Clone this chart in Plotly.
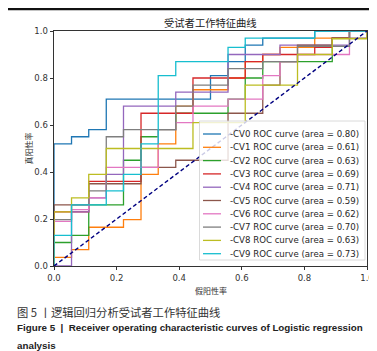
import plotly.graph_objects as go

# false positive rate grid (18 negatives) and step levels of each fold's ROC curve
fpr_steps = [0.0, 0.056, 0.111, 0.167, 0.222, 0.278, 0.333, 0.389, 0.444, 0.5,
             0.556, 0.611, 0.667, 0.722, 0.778, 0.833, 0.889, 0.944, 1.0]

tpr_cv0 = [0.52, 0.55, 0.58, 0.71, 0.71, 0.71, 0.71, 0.71, 0.71, 0.81,
           0.87, 0.94, 0.97, 0.97, 0.97, 1.0, 1.0, 1.0, 1.0]
tpr_cv1 = [0.037, 0.07, 0.165, 0.165, 0.197, 0.39, 0.52, 0.68, 0.75, 0.75,
           0.80, 0.87, 0.90, 0.93, 0.93, 0.97, 0.97, 1.0, 1.0]
tpr_cv2 = [0.10, 0.13, 0.26, 0.26, 0.45, 0.55, 0.58, 0.65, 0.65, 0.65,
           0.71, 0.80, 0.87, 0.87, 0.87, 0.87, 0.97, 1.0, 1.0]
tpr_cv3 = [0.23, 0.23, 0.36, 0.36, 0.36, 0.65, 0.65, 0.65, 0.80, 0.80,
           0.80, 0.87, 0.90, 0.90, 0.90, 0.93, 0.97, 1.0, 1.0]
tpr_cv4 = [0.0, 0.23, 0.29, 0.39, 0.68, 0.68, 0.68, 0.74, 0.74, 0.74,
           0.90, 0.90, 0.90, 0.94, 0.94, 0.94, 0.94, 1.0, 1.0]
tpr_cv5 = [0.26, 0.26, 0.35, 0.35, 0.35, 0.42, 0.42, 0.45, 0.45, 0.45,
           0.65, 0.65, 0.77, 0.87, 0.94, 0.94, 0.97, 0.97, 1.0]
tpr_cv6 = [0.19, 0.24, 0.29, 0.42, 0.42, 0.42, 0.58, 0.61, 0.68, 0.68,
           0.71, 0.71, 0.81, 0.87, 0.90, 0.90, 0.90, 1.0, 1.0]
tpr_cv7 = [0.197, 0.26, 0.32, 0.55, 0.58, 0.58, 0.58, 0.68, 0.77, 0.77,
           0.84, 0.84, 0.87, 0.87, 0.935, 0.935, 0.935, 1.0, 1.0]
tpr_cv8 = [0.23, 0.29, 0.39, 0.50, 0.50, 0.50, 0.50, 0.50, 0.61, 0.61,
           0.61, 0.77, 0.77, 0.77, 0.90, 0.90, 0.967, 0.967, 1.0]
tpr_cv9 = [0.13, 0.26, 0.26, 0.32, 0.39, 0.52, 0.81, 0.87, 0.87, 0.87,
           0.93, 0.97, 0.97, 0.97, 0.97, 1.0, 1.0, 1.0, 1.0]

auc_values = [0.80, 0.61, 0.63, 0.69, 0.71, 0.59, 0.62, 0.70, 0.63, 0.73]
fold_names = ["CV0", "CV1", "CV2", "CV3", "CV4", "CV5", "CV6", "CV7", "CV8", "CV9"]
chance_x = [0, 1]
chance_y = [0, 1]
tick_vals = [0.0, 0.2, 0.4, 0.6, 0.8, 1.0]

colors = ["#1f77b4", "#ff7f0e", "#2ca02c", "#d62728", "#9467bd",
          "#8c564b", "#e377c2", "#7f7f7f", "#bcbd22", "#17becf"]
curves = [tpr_cv0, tpr_cv1, tpr_cv2, tpr_cv3, tpr_cv4,
          tpr_cv5, tpr_cv6, tpr_cv7, tpr_cv8, tpr_cv9]

W, H = 377, 351
L, R, T, B = 46, 18, 23, 93
PW, PH = W - L - R, H - T - B


def px(x):
    return (x - L) / PW


def py(y):
    return (H - B - y) / PH


fig = go.Figure()
for name, tpr, col in zip(fold_names, curves, colors):
    fig.add_trace(go.Scatter(x=[0.0] + fpr_steps, y=[0.0] + tpr, mode="lines",
                             line=dict(color=col, width=1.3, shape="hv"),
                             name=name, showlegend=False))
fig.add_trace(go.Scatter(x=chance_x, y=chance_y, mode="lines",
                         line=dict(color="navy", width=1.4, dash="4px,2.6px"),
                         showlegend=False))

shapes = []
annotations = []

# black rule at the very top of the page
shapes.append(dict(type="rect", xref="paper", yref="paper",
                   x0=px(0), x1=px(W), y0=py(2.2), y1=py(0),
                   fillcolor="#111", line=dict(width=0)))

# legend box drawn by hand (matplotlib style)
lx0, lx1, ly0, ly1 = 191.5, 357, 113, 252
shapes.append(dict(type="rect", xref="paper", yref="paper",
                   x0=px(lx0), x1=px(lx1), y0=py(ly1), y1=py(ly0),
                   fillcolor="rgba(255,255,255,0.8)",
                   line=dict(color="#d0d0d0", width=0.8)))
for i, (name, auc, col) in enumerate(zip(fold_names, auc_values, colors)):
    yy = 126 + i * 13.3
    shapes.append(dict(type="line", xref="paper", yref="paper",
                       x0=px(195), x1=px(213), y0=py(yy), y1=py(yy),
                       line=dict(color=col, width=1.3)))
    annotations.append(dict(x=px(220), y=py(yy), xref="paper", yref="paper",
                            text=f"-{name} ROC curve (area = {auc:.2f})",
                            showarrow=False, xanchor="left", yanchor="middle",
                            font=dict(family="DejaVu Sans", size=8.6, color="#262626")))

# titles
annotations.append(dict(x=0.5, y=py(14), xref="paper", yref="paper",
                        text="受试者工作特征曲线", showarrow=False,
                        xanchor="center", yanchor="middle",
                        font=dict(family="Noto Sans CJK SC", size=10.3, color="#222")))
annotations.append(dict(x=0.5, y=py(282), xref="paper", yref="paper",
                        text="假阳性率", showarrow=False,
                        xanchor="center", yanchor="middle",
                        font=dict(family="Noto Sans CJK SC", size=8, color="#333")))
annotations.append(dict(x=px(20), y=0.5, xref="paper", yref="paper",
                        text="真阳性率", showarrow=False, textangle=-90,
                        xanchor="center", yanchor="middle",
                        font=dict(family="Noto Sans CJK SC", size=8, color="#333")))

# figure caption
annotations.append(dict(x=px(7), y=py(304), xref="paper", yref="paper",
                        text="图 5 丨逻辑回归分析受试者工作特征曲线", showarrow=False,
                        xanchor="left", yanchor="middle",
                        font=dict(family="Noto Sans CJK SC", size=11.3, color="#333")))
annotations.append(dict(x=px(7), y=py(319.5), xref="paper", yref="paper",
                        text="<b>Figure 5  |  Receiver operating characteristic curves of Logistic regression</b>",
                        showarrow=False, xanchor="left", yanchor="middle",
                        font=dict(family="Liberation Sans", size=9.8, color="#222")))
annotations.append(dict(x=px(7), y=py(337), xref="paper", yref="paper",
                        text="<b>analysis</b>", showarrow=False,
                        xanchor="left", yanchor="middle",
                        font=dict(family="Liberation Sans", size=9.8, color="#222")))

axis_style = dict(range=[0, 1], showgrid=False, zeroline=False,
                  showline=True, mirror=True, linecolor="#333", linewidth=0.9,
                  ticks="outside", ticklen=3.5, tickwidth=0.9, tickcolor="#333",
                  tickvals=tick_vals, tickformat=".1f",
                  tickfont=dict(family="DejaVu Sans", size=8.5, color="#333"))

fig.update_layout(
    width=W, height=H,
    margin=dict(l=L, r=R, t=T, b=B, pad=0),
    paper_bgcolor="white", plot_bgcolor="white",
    xaxis=axis_style, yaxis=axis_style,
    shapes=shapes, annotations=annotations,
    showlegend=False,
)

fig.write_html("out.html")
